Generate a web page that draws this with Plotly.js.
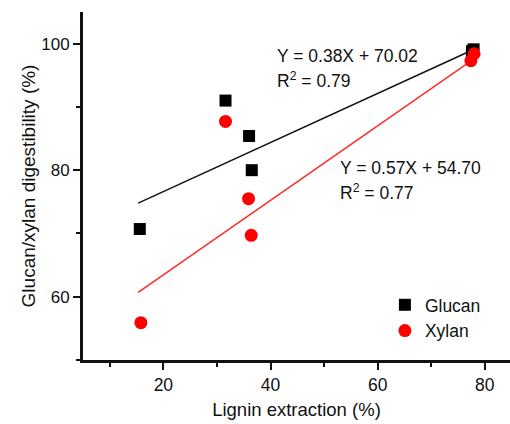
<!DOCTYPE html>
<html><head><meta charset="utf-8">
<script src="https://cdn.plot.ly/plotly-3.0.1.min.js"></script>
<style>html,body{margin:0;padding:0;background:#fff}#chart{width:510px;height:424px}</style>
</head><body><div id="chart"></div>
<script>
const glucanX = [15.6, 31.6, 36.0, 36.5, 77.9, 77.6];
const glucanY = [70.7, 91.0, 85.4, 80.0, 99.1, 98.8];
const xylanX = [15.8, 31.6, 35.9, 36.4, 77.4, 78.0];
const xylanY = [55.9, 87.7, 75.5, 69.7, 97.3, 98.4];
const glucanFitX = [15.3, 77.7];
const glucanFitY = [74.8, 99.0];
const xylanFitX = [15.3, 77.5];
const xylanFitY = [60.7, 97.3];
const eqText = ["Y = 0.38X + 70.02", "R<sup>2</sup> = 0.79", "Y = 0.57X + 54.70", "R<sup>2</sup> = 0.77"];
const eqX = [40.8, 40.8, 52.6, 52.6];
const eqY = [98.0, 94.2, 80.3, 76.5];

const FONT = "Liberation Sans, Arial, sans-serif";
const traces = [
  {x: glucanFitX, y: glucanFitY, mode: 'lines', line: {color: '#111', width: 1.5}, showlegend: false, hoverinfo: 'skip'},
  {x: xylanFitX, y: xylanFitY, mode: 'lines', line: {color: '#ff2a2a', width: 1.5}, showlegend: false, hoverinfo: 'skip'},
  {x: glucanX, y: glucanY, mode: 'markers', name: 'Glucan', marker: {symbol: 'square', size: 12, color: '#000'}},
  {x: xylanX, y: xylanY, mode: 'markers', name: 'Xylan', marker: {symbol: 'circle', size: 13, color: '#ff0000'}}
];
const annotations = eqText.map((t, i) => ({
  x: eqX[i], y: eqY[i], xref: 'x', yref: 'y', text: t, showarrow: false,
  xanchor: 'left', yanchor: 'middle', font: {family: FONT, size: 17.5, color: '#111'}
}));
const layout = {
  width: 510, height: 424,
  margin: {l: 83, r: 0, t: 12, b: 64},
  paper_bgcolor: '#fff', plot_bgcolor: '#fff',
  font: {family: FONT, color: '#111'},
  xaxis: {
    range: [5, 84.7], tick0: 0, dtick: 20, showgrid: false, zeroline: false,
    showline: true, linecolor: '#111', linewidth: 3,
    ticks: 'outside', ticklen: 7, tickwidth: 2, tickcolor: '#111',
    minor: {dtick: 10, ticks: 'outside', ticklen: 4, tickwidth: 2, tickcolor: '#111', showgrid: false},
    tickfont: {family: FONT, size: 17.5, color: '#111'},
    title: {text: 'Lignin extraction (%)', font: {family: FONT, size: 18.5, color: '#111'}, standoff: 10}
  },
  yaxis: {
    range: [50, 105], tick0: 0, dtick: 20, showgrid: false, zeroline: false,
    showline: true, linecolor: '#111', linewidth: 3,
    ticks: 'outside', ticklen: 7, tickwidth: 2, tickcolor: '#111',
    minor: {dtick: 10, ticks: 'outside', ticklen: 4, tickwidth: 2, tickcolor: '#111', showgrid: false},
    tickfont: {family: FONT, size: 17, color: '#111'},
    title: {text: 'Glucan/xylan digestibility (%)', font: {family: FONT, size: 19, color: '#111'}, standoff: 1}
  },
  legend: {x: 0.707, y: 0.21, xanchor: 'left', yanchor: 'top', bgcolor: 'rgba(0,0,0,0)',
    font: {family: FONT, size: 17.5, color: '#111'}, tracegroupgap: 0, itemwidth: 30},
  annotations: annotations,
  showlegend: true
};
Plotly.newPlot('chart', traces, layout, {displayModeBar: false, staticPlot: true});
</script></body></html>
